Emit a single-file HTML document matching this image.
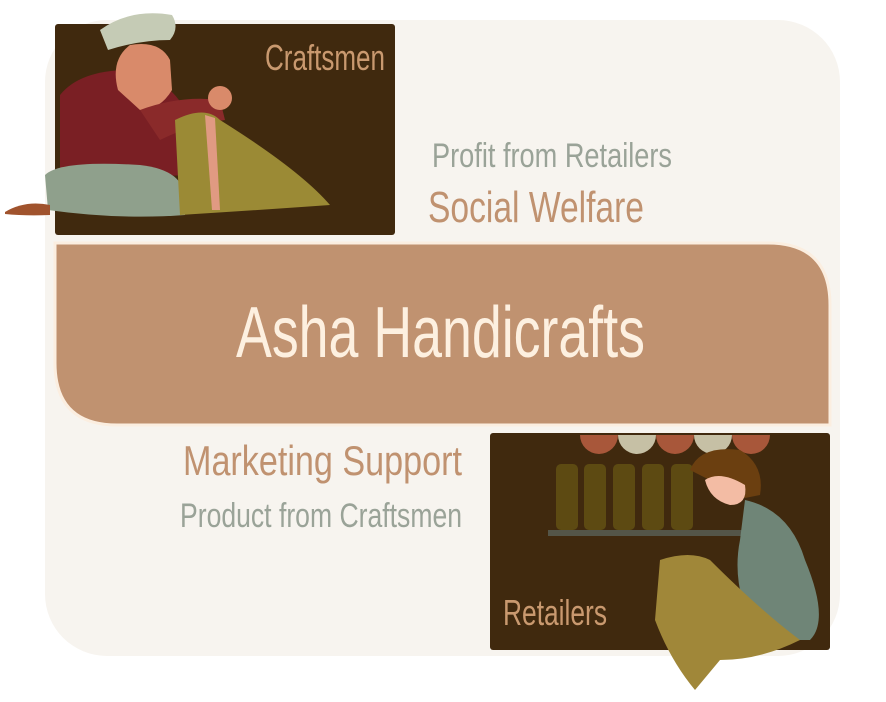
<!DOCTYPE html>
<html><head><meta charset="utf-8"><style>
html,body{margin:0;padding:0;background:#fff;width:886px;height:702px;overflow:hidden}
svg{display:block}
text{font-family:"Liberation Sans Narrow","Liberation Sans",sans-serif}
</style></head><body>
<svg width="886" height="702" viewBox="0 0 886 702">
<rect x="45" y="20" width="795" height="636" rx="62" fill="#f7f4ef"/>
<rect x="55" y="24" width="340" height="211" rx="3" fill="#40290e"/>
<g>
 <path d="M60 95 Q80 70 130 70 Q170 80 185 110 L190 175 L60 180 Z" fill="#7a1f24"/>
 <path d="M118 90 Q110 60 130 45 Q160 40 170 60 L172 90 Q160 110 140 110 Z" fill="#d98a6a"/>
 <path d="M100 30 Q130 8 172 15 Q180 28 170 40 Q140 40 108 50 Z" fill="#c5cbb5"/>
 <path d="M140 110 Q180 95 220 100 L225 120 Q190 125 160 140 Z" fill="#8a2a2a"/>
 <circle cx="220" cy="98" r="12" fill="#d98a6a"/>
 <path d="M45 175 Q60 160 140 165 Q185 170 185 200 L185 215 Q120 220 48 210 Z" fill="#8fa08c"/>
 <path d="M5 212 Q25 200 50 205 L50 215 Q25 216 5 214 Z" fill="#a0532d"/>
 <path d="M175 120 Q205 105 220 120 Q300 170 330 205 Q260 210 180 215 Z" fill="#9b8a35"/>
 <path d="M205 115 L215 118 L220 210 L212 210 Z" fill="#e09a82"/>
</g>
<path d="M55 243 H768 Q830 243 830 305 V425 H117 Q55 425 55 363 Z" fill="#c09270" stroke="#fbeee0" stroke-width="3"/>
<rect x="490" y="433" width="340" height="217" rx="3" fill="#40290e"/>
<g>
 <path d="M580 435 a19 19 0 0 0 38 0 Z" fill="#a8573a"/>
 <path d="M618 435 a19 19 0 0 0 38 0 Z" fill="#c6c0a5"/>
 <path d="M656 435 a19 19 0 0 0 38 0 Z" fill="#a8573a"/>
 <path d="M694 435 a19 19 0 0 0 38 0 Z" fill="#c6c0a5"/>
 <path d="M732 435 a19 19 0 0 0 38 0 Z" fill="#a8573a"/>
 <rect x="556" y="464" width="22" height="66" rx="5" fill="#5d4a12"/>
 <rect x="584" y="464" width="22" height="66" rx="5" fill="#5d4a12"/>
 <rect x="613" y="464" width="22" height="66" rx="5" fill="#5d4a12"/>
 <rect x="642" y="464" width="22" height="66" rx="5" fill="#5d4a12"/>
 <rect x="671" y="464" width="22" height="66" rx="5" fill="#5d4a12"/>
 <rect x="548" y="530" width="200" height="6" fill="#545548"/>
 <path d="M690 470 Q700 445 740 450 Q765 465 760 495 L745 498 Z" fill="#6b3f10"/>
 <path d="M705 480 Q720 470 745 485 Q748 505 730 505 Q710 500 705 480 Z" fill="#f3bca4"/>
 <path d="M745 500 Q790 510 805 560 Q830 620 810 640 L760 640 Q730 590 740 540 Z" fill="#6f8577"/>
 <path d="M660 560 Q690 550 710 560 Q760 610 800 640 Q760 660 720 660 L695 690 Q670 660 655 620 Z" fill="#a08739"/>
</g>
<g>
<text x="265" y="70" font-size="36" textLength="120" lengthAdjust="spacingAndGlyphs" fill="#c9996f">Craftsmen</text>
<text x="432" y="167" font-size="34" textLength="240" lengthAdjust="spacingAndGlyphs" fill="#9aa398">Profit from Retailers</text>
<text x="428" y="222" font-size="44" textLength="216" lengthAdjust="spacingAndGlyphs" fill="#c09270">Social Welfare</text>
<text x="236" y="357" font-size="72" textLength="409" lengthAdjust="spacingAndGlyphs" fill="#fdf0e0">Asha Handicrafts</text>
<text x="183" y="475" font-size="42" textLength="279" lengthAdjust="spacingAndGlyphs" fill="#c09270">Marketing Support</text>
<text x="180" y="527" font-size="34" textLength="282" lengthAdjust="spacingAndGlyphs" fill="#9aa398">Product from Craftsmen</text>
<text x="503" y="625" font-size="36" textLength="104" lengthAdjust="spacingAndGlyphs" fill="#c9996f">Retailers</text>
</g>
</svg>
</body></html>
